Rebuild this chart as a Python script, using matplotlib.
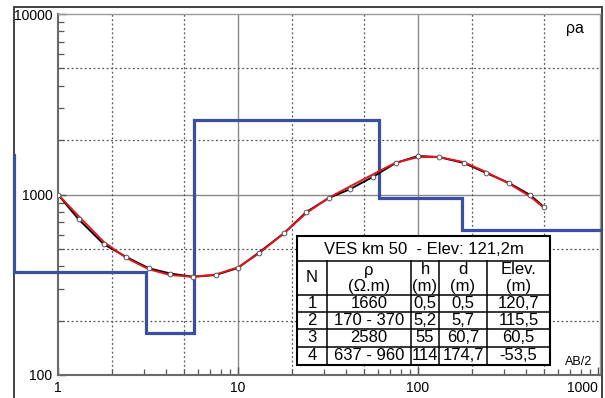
import matplotlib.pyplot as plt
import numpy as np
from matplotlib.patches import Rectangle
from matplotlib.lines import Line2D

plt.rcParams['font.family'] = ['Liberation Sans', 'DejaVu Sans']

# field curve (AB/2 in m, apparent resistivity in ohm.m)
ab2 = [1, 1.3, 1.8, 2.4, 3.2, 4.2, 5.6, 7.5, 10, 13, 18, 24, 32, 42, 56, 75,
       100, 130, 180, 240, 320, 420, 500]
rho_field = [1000, 730, 530, 450, 390, 365, 350, 358, 392, 475, 610, 800, 957,
             1072, 1250, 1494, 1633, 1614, 1495, 1315, 1158, 993, 853]
rho_fit = [1000, 760, 545, 445, 385, 358, 350, 360, 395, 470, 610, 790, 960,
           1110, 1290, 1500, 1610, 1615, 1510, 1330, 1150, 975, 845]

# layered model
layer_rho = [1660, 370, 170, 2580, 960, 637]
layer_bottom = [0.57, 3.1, 5.7, 60.7, 174.7]

# table
table_title = "VES km 50  - Elev: 121,2m"
col_head1 = ["N", "ρ", "h", "d", "Elev."]
col_head2 = ["", "(Ω.m)", "(m)", "(m)", "(m)"]
rows = [["1", "1660", "0,5", "0,5", "120,7"],
        ["2", "170 - 370", "5,2", "5,7", "115,5"],
        ["3", "2580", "55", "60,7", "60,5"],
        ["4", "637 - 960", "114", "174,7", "-53,5"]]

W, H = 605, 398
fig = plt.figure(figsize=(W / 100, H / 100), dpi=100)


def fx(px):
    return px / W


def fy(py):
    return 1 - py / H


ax = fig.add_axes([fx(58), fy(375), (600 - 58) / W, (375 - 14) / H])
xmax = 1026
ax.set_xscale('log')
ax.set_yscale('log')
ax.set_xlim(1, xmax)
ax.set_ylim(100, 10000)

# grid: solid at decades, dotted at 2 and 5
for d in [10, 100]:
    ax.axvline(d, color='#8a8a8a', lw=1.0, zorder=1)
ax.axhline(1000, color='#8a8a8a', lw=1.0, zorder=1)
for d in [1, 10, 100]:
    for m in [2, 5]:
        ax.axvline(d * m, color='#555555', lw=0.9, ls=(0, (1.5, 2)), zorder=1)
for d in [100, 1000]:
    for m in [2, 5]:
        ax.axhline(d * m, color='#555555', lw=0.9, ls=(0, (1.5, 2)), zorder=1)

# model
xs = list(np.repeat(layer_bottom, 2)) + [xmax]
ys = list(np.repeat(layer_rho, 2)[1:])
ax.plot(xs, ys, color='#3a4ea2', lw=2.3, clip_on=False, zorder=3,
        solid_joinstyle='miter')

ax.plot(ab2, rho_field, color='black', lw=1.4, zorder=4)
ax.plot(ab2, rho_field, ls='none', marker='o', ms=3.4, mfc='white',
        mec='#555555', mew=0.7, zorder=6)
ax.plot(ab2, rho_fit, color='#e8141b', lw=1.4, zorder=5)

for s in ['top', 'right']:
    ax.spines[s].set_color('#9a9a9a')
    ax.spines[s].set_linewidth(1.0)
for s in ['left', 'bottom']:
    ax.spines[s].set_color('#6a6a6a')
    ax.spines[s].set_linewidth(1.5)

ax.set_xticks([1, 10, 100, 1000])
ax.set_xticklabels(['1', '10', '100', '1000'])
ax.set_yticks([100, 1000, 10000])
ax.set_yticklabels(['100', '1000', '10000'])
ax.tick_params(which='both', direction='in', color='#555555', labelsize=10)
ax.tick_params(which='major', length=6, width=1, pad=4)
ax.tick_params(which='minor', length=4, width=0.9)
ax.get_xticklabels()[-1].set_horizontalalignment('right')

ax.text(0.985, 0.035, 'AB/2', transform=ax.transAxes, ha='right',
        va='center', fontsize=9)
ax.text(0.97, 0.96, 'ρa', transform=ax.transAxes, ha='right', va='center',
        fontsize=11.5)

# outer frame
fig.add_artist(Rectangle((fx(14), fy(410)), fx(602 - 14), (410 - 7) / H,
                         fill=False, ec='#333333', lw=1.3, zorder=-1))

# table
xe = [297, 327, 411, 439, 487, 550]
ye = [236, 261, 295, 312, 329, 347, 365]
fig.add_artist(Rectangle((fx(xe[0]), fy(ye[-1])), fx(xe[-1] - xe[0]),
                         (ye[-1] - ye[0]) / H, fc='white', ec='black',
                         lw=1.5, zorder=7))
for y in ye[1:-1]:
    fig.add_artist(Line2D([fx(xe[0]), fx(xe[-1])], [fy(y), fy(y)],
                          color='black', lw=1.1, zorder=8))
for x in xe[1:-1]:
    fig.add_artist(Line2D([fx(x), fx(x)], [fy(ye[1]), fy(ye[-1])],
                          color='black', lw=1.1, zorder=8))
fig.text(fx((xe[0] + xe[-1]) / 2), fy(249), table_title, ha='center',
         va='center', fontsize=12, zorder=9)
for i in range(5):
    cx = fx((xe[i] + xe[i + 1]) / 2)
    if col_head2[i]:
        fig.text(cx, fy(270), col_head1[i], ha='center', va='center',
                 fontsize=12, zorder=9)
        fig.text(cx, fy(286), col_head2[i], ha='center', va='center',
                 fontsize=12, zorder=9)
    else:
        fig.text(cx, fy(278), col_head1[i], ha='center', va='center',
                 fontsize=12, zorder=9)
    for r, row in enumerate(rows):
        cy = fy((ye[r + 2] + ye[r + 3]) / 2)
        fig.text(cx, cy, row[i], ha='center', va='center', fontsize=12,
                 zorder=9)

fig.savefig('out.png', dpi=100)
